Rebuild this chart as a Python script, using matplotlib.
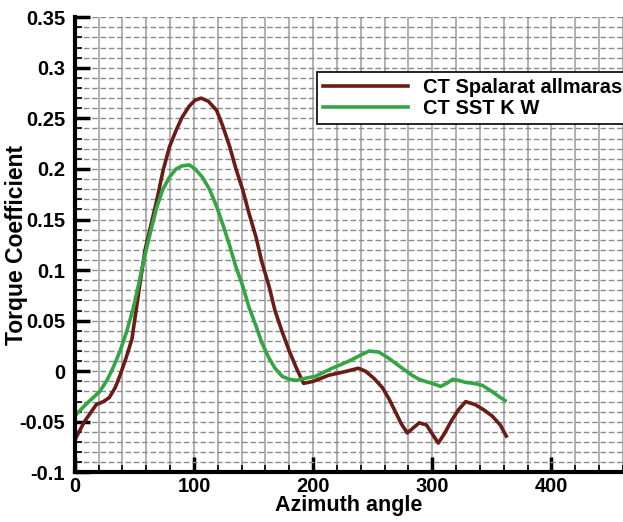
import matplotlib.pyplot as plt
from matplotlib.ticker import MultipleLocator

# Spalart-Allmaras curve
azSA = [0, 8, 18, 24, 29, 34, 38, 43, 48, 54, 59, 64, 69, 74, 79.5, 85, 90, 96, 101, 106, 112,
        119, 124, 130, 135, 141, 146, 152, 157, 163, 168, 174, 180, 186, 192, 200, 213, 228,
        238, 244, 251, 258, 264, 269, 274, 279, 284, 289, 295, 300, 305, 310, 316, 322, 328,
        336, 343, 350, 357, 362]
ctSA = [-0.068, -0.05, -0.033, -0.03, -0.026, -0.016, -0.004, 0.013, 0.032, 0.081, 0.12, 0.145,
        0.17, 0.198, 0.222, 0.238, 0.251, 0.262, 0.268, 0.27, 0.267, 0.258, 0.243, 0.222, 0.201,
        0.179, 0.157, 0.133, 0.108, 0.084, 0.06, 0.039, 0.02, 0.003, -0.012, -0.01, -0.004, 0.0,
        0.003, 0.0, -0.007, -0.016, -0.028, -0.04, -0.052, -0.061, -0.056, -0.051, -0.053,
        -0.062, -0.071, -0.062, -0.049, -0.038, -0.030, -0.033, -0.038, -0.044, -0.053, -0.064]

# SST k-w curve
azSST = [0, 10, 21, 27, 32, 38, 43.5, 49, 54, 57, 60, 64, 69, 74, 79.5, 85, 90, 96, 101, 107,
         113, 119, 124, 130, 135, 141, 146, 152, 157, 163, 168, 174, 180, 186, 193, 202, 216,
         230, 240, 247, 255, 262, 269, 276, 283, 289, 294, 300, 307, 312, 317, 322, 328, 335,
         342, 350, 356, 361]
ctSST = [-0.044, -0.032, -0.02, -0.009, 0.003, 0.02, 0.039, 0.062, 0.088, 0.105, 0.12, 0.14,
         0.163, 0.18, 0.192, 0.2, 0.203, 0.204, 0.2, 0.192, 0.18, 0.163, 0.146, 0.124, 0.104,
         0.084, 0.064, 0.045, 0.028, 0.013, 0.003, -0.005, -0.008, -0.009, -0.007, -0.005,
         0.003, 0.01, 0.016, 0.02, 0.019, 0.014, 0.008, 0.002, -0.004, -0.008, -0.01, -0.012,
         -0.015, -0.012, -0.008, -0.009, -0.011, -0.012, -0.014, -0.02, -0.025, -0.029]

yticks = [-0.1, -0.05, 0, 0.05, 0.1, 0.15, 0.2, 0.25, 0.3, 0.35]
ylabels = ['-0.1', '-0.05', '0', '0.05', '0.1', '0.15', '0.2', '0.25', '0.3', '0.35']

plt.rcParams['font.family'] = ['Liberation Sans', 'DejaVu Sans']
plt.rcParams['font.weight'] = 'bold'

fig = plt.figure(figsize=(6.23, 5.22), dpi=100)
ax = fig.add_axes([0.12, 0.095, 0.88, 0.872])

ax.plot(azSA, ctSA, color='#6a1c18', lw=2.6, label='CT Spalarat allmaras')
ax.plot(azSST, ctSST, color='#33a544', lw=2.6, label='CT SST K W')

ax.set_xlim(0, 460)
ax.set_ylim(-0.1, 0.35)
ax.xaxis.set_major_locator(MultipleLocator(100))
ax.xaxis.set_minor_locator(MultipleLocator(20))
ax.yaxis.set_minor_locator(MultipleLocator(0.01))
ax.set_yticks(yticks)
ax.set_yticklabels(ylabels)

ax.grid(which='both', axis='x', color='#b0b0b0', lw=1.4)
ax.grid(which='both', axis='y', color='#8a8a8a', lw=1.0, ls=(0, (4, 2)))
ax.set_axisbelow(True)

for s in ['top', 'right']:
    ax.spines[s].set_visible(False)
for s in ['left', 'bottom']:
    ax.spines[s].set_linewidth(3)

ax.tick_params(which='major', direction='in', length=11, width=2.5, labelsize=14.5, pad=7)
ax.tick_params(axis='x', which='major', pad=3)
ax.tick_params(which='minor', direction='in', length=5, width=1.2)

ax.set_xlabel('Azimuth angle', fontsize=15.5, fontweight='bold')
ax.xaxis.set_label_coords(0.5, -0.05)
ax.set_ylabel('Torque Coefficient', fontsize=16.5, fontweight='bold')
ax.yaxis.set_label_coords(-0.086, 0.5)

leg = ax.legend(loc='upper left', bbox_to_anchor=(0.442, 0.88),
                prop={'family': 'Liberation Sans', 'weight': 'bold', 'size': 14.5},
                handlelength=4.2, handletextpad=0.75, labelspacing=0.1, borderpad=0.3,
                borderaxespad=0, fancybox=False, framealpha=1, edgecolor='black')
leg.get_frame().set_linewidth(1.2)

fig.savefig('out.png', dpi=100)
